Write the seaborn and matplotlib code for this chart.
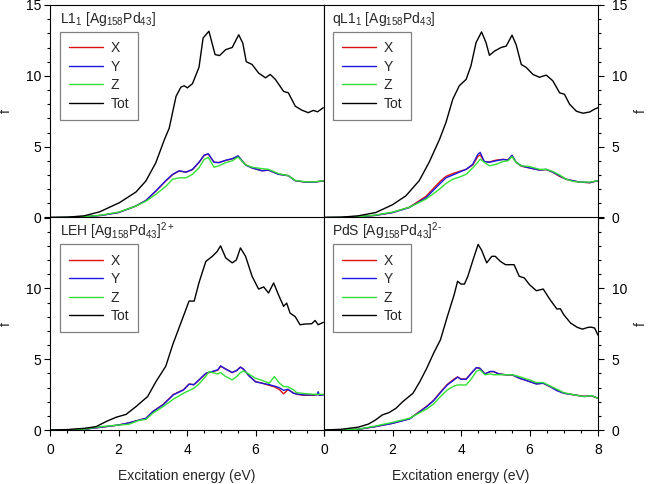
import matplotlib
matplotlib.use("Agg")
import matplotlib.pyplot as plt
from matplotlib.ticker import MultipleLocator
from matplotlib.lines import Line2D
import seaborn as sns
import pandas as pd

# ---------------- data ----------------
series_names = ["X", "Y", "Z", "Tot"]
series_colors = ["#dd1111", "#1a1ae0", "#33e033", "#000000"]

panel_titles = [
    r"L1$_1$ [Ag$_{158}$Pd$_{43}$]",
    r"qL1$_1$ [Ag$_{158}$Pd$_{43}$]",
    r"LEH [Ag$_{158}$Pd$_{43}$]$^{2+}$",
    r"PdS [Ag$_{158}$Pd$_{43}$]$^{2\text{-}}$",
]

# L1_1 (top-left)
l11_tot_x = [0, 0.5, 1.0, 1.45, 2.03, 2.51, 2.8, 3.09, 3.34, 3.48, 3.68, 3.82, 3.92, 4.01, 4.16, 4.35, 4.47, 4.64, 4.82, 4.95, 5.13, 5.32, 5.51, 5.63, 5.73, 5.9, 6.09, 6.29, 6.43, 6.58, 6.82, 6.96, 7.16, 7.35, 7.54, 7.69, 7.81, 7.98]
l11_tot = [0, 0.02, 0.12, 0.4, 1.05, 1.8, 2.58, 3.87, 5.5, 6.3, 8.55, 9.2, 9.3, 9.15, 9.45, 10.6, 12.67, 13.15, 11.5, 11.43, 11.85, 12.0, 12.9, 12.3, 11.0, 10.8, 10.2, 9.86, 10.1, 9.75, 8.9, 8.8, 7.86, 7.58, 7.4, 7.56, 7.46, 7.75]
l11_comp_x = [0, 0.5, 1.0, 1.5, 2.0, 2.5, 2.8, 3.1, 3.38, 3.58, 3.77, 3.97, 4.16, 4.35, 4.5, 4.62, 4.79, 4.93, 5.13, 5.32, 5.49, 5.71, 5.9, 6.19, 6.38, 6.67, 6.96, 7.16, 7.45, 7.74, 7.98]
l11_x = [0, 0.01, 0.05, 0.15, 0.35, 0.8, 1.2, 1.88, 2.58, 3.02, 3.28, 3.2, 3.38, 3.88, 4.38, 4.48, 3.9, 3.88, 4.03, 4.14, 4.33, 3.72, 3.5, 3.3, 3.34, 3.06, 2.95, 2.6, 2.5, 2.52, 2.58]
l11_y = [0, 0.01, 0.05, 0.15, 0.35, 0.8, 1.2, 1.9, 2.6, 3.05, 3.3, 3.2, 3.4, 3.9, 4.4, 4.5, 3.9, 3.87, 4.04, 4.15, 4.35, 3.7, 3.5, 3.3, 3.35, 3.05, 2.95, 2.6, 2.5, 2.5, 2.58]
l11_z = [0, 0.01, 0.05, 0.17, 0.38, 0.8, 1.15, 1.65, 2.2, 2.7, 2.8, 2.8, 3.05, 3.5, 4.1, 4.25, 3.55, 3.65, 3.87, 4.0, 4.27, 3.72, 3.55, 3.45, 3.4, 3.1, 2.95, 2.62, 2.52, 2.52, 2.6]

# qL1_1 (top-right)
ql11_tot_x = [0, 0.5, 1.0, 1.51, 2.0, 2.39, 2.78, 3.07, 3.37, 3.56, 3.76, 3.95, 4.15, 4.29, 4.44, 4.6, 4.73, 4.83, 4.98, 5.17, 5.32, 5.49, 5.61, 5.76, 5.9, 6.1, 6.29, 6.49, 6.68, 6.88, 7.02, 7.17, 7.37, 7.56, 7.76, 7.9, 8.0]
ql11_tot = [0, 0.02, 0.12, 0.35, 0.9, 1.53, 2.6, 3.9, 5.5, 6.7, 8.35, 9.3, 9.75, 10.7, 12.35, 13.1, 12.35, 11.45, 11.75, 12.0, 12.1, 12.87, 12.2, 10.8, 10.6, 10.1, 9.9, 10.05, 9.65, 8.8, 8.7, 8.0, 7.5, 7.36, 7.45, 7.65, 7.75]
ql11_comp_x = [0, 0.5, 1.0, 1.5, 2.0, 2.49, 2.98, 3.37, 3.56, 3.76, 3.95, 4.15, 4.34, 4.49, 4.56, 4.68, 4.83, 5.02, 5.22, 5.37, 5.49, 5.61, 5.76, 6.0, 6.29, 6.49, 6.68, 6.88, 7.07, 7.27, 7.46, 7.76, 8.0]
ql11_x = [0, 0.01, 0.05, 0.15, 0.35, 0.72, 1.5, 2.5, 2.9, 3.1, 3.25, 3.4, 3.7, 4.3, 4.42, 3.95, 3.92, 4.05, 4.1, 4.08, 4.35, 3.9, 3.62, 3.5, 3.35, 3.38, 3.2, 2.9, 2.7, 2.58, 2.5, 2.45, 2.6]
ql11_y = [0, 0.01, 0.05, 0.15, 0.35, 0.7, 1.4, 2.35, 2.8, 3.0, 3.2, 3.4, 3.75, 4.45, 4.6, 3.95, 3.9, 4.0, 4.1, 4.05, 4.4, 3.9, 3.65, 3.5, 3.35, 3.4, 3.2, 2.95, 2.7, 2.6, 2.5, 2.47, 2.6]
ql11_z = [0, 0.01, 0.05, 0.17, 0.38, 0.72, 1.3, 2.0, 2.4, 2.7, 2.85, 3.05, 3.5, 3.9, 4.12, 3.9, 3.65, 3.75, 3.95, 4.0, 4.3, 3.9, 3.65, 3.6, 3.4, 3.4, 3.25, 3.0, 2.7, 2.55, 2.5, 2.5, 2.6]

# LEH (bottom-left)
leh_tot_x = [0, 0.5, 1.02, 1.35, 1.64, 1.93, 2.22, 2.51, 2.71, 2.85, 3.09, 3.38, 3.58, 3.82, 4.06, 4.21, 4.35, 4.55, 4.74, 4.88, 4.98, 5.13, 5.32, 5.44, 5.56, 5.71, 5.9, 6.09, 6.24, 6.38, 6.53, 6.67, 6.82, 6.91, 7.01, 7.16, 7.3, 7.45, 7.64, 7.74, 7.83, 7.98]
leh_tot = [0, 0.03, 0.12, 0.24, 0.6, 0.9, 1.1, 1.65, 2.07, 2.36, 3.4, 4.5, 6.0, 7.55, 9.1, 9.1, 10.4, 11.9, 12.26, 12.6, 13.0, 12.15, 11.8, 12.0, 12.85, 12.26, 10.85, 9.95, 10.1, 9.67, 10.38, 9.55, 8.73, 8.96, 8.25, 8.0, 7.43, 7.48, 7.5, 7.73, 7.43, 7.6]
leh_comp_x = [0, 0.5, 1.0, 1.5, 2.0, 2.3, 2.6, 2.8, 3.0, 3.3, 3.6, 3.9, 4.06, 4.2, 4.35, 4.55, 4.65, 4.74, 4.9, 4.98, 5.13, 5.32, 5.45, 5.56, 5.65, 5.8, 6.0, 6.2, 6.4, 6.55, 6.7, 6.82, 6.95, 7.1, 7.2, 7.4, 7.7, 7.8, 7.83, 7.86, 7.98]
leh_x = [0, 0.01, 0.05, 0.2, 0.35, 0.5, 0.7, 0.82, 1.3, 1.8, 2.5, 2.85, 3.25, 3.2, 3.52, 3.98, 4.06, 4.12, 4.22, 4.5, 4.3, 4.05, 4.2, 4.45, 4.28, 3.85, 3.42, 3.3, 3.15, 3.05, 2.85, 2.55, 2.85, 2.62, 2.52, 2.45, 2.45, 2.5, 2.62, 2.45, 2.5]
leh_y = [0, 0.01, 0.05, 0.2, 0.35, 0.5, 0.7, 0.82, 1.3, 1.77, 2.48, 2.83, 3.23, 3.2, 3.54, 4.0, 4.08, 4.13, 4.25, 4.53, 4.3, 4.06, 4.2, 4.43, 4.3, 3.85, 3.4, 3.3, 3.2, 3.1, 2.98, 2.8, 2.88, 2.6, 2.55, 2.48, 2.48, 2.48, 2.7, 2.45, 2.48]
leh_z = [0, 0.01, 0.06, 0.24, 0.35, 0.4, 0.68, 0.75, 1.18, 1.65, 2.17, 2.6, 2.78, 2.95, 3.25, 3.8, 4.13, 4.05, 3.96, 4.06, 3.77, 3.54, 3.77, 4.05, 4.17, 3.96, 3.65, 3.5, 3.3, 3.77, 3.3, 3.07, 3.05, 2.85, 2.64, 2.58, 2.52, 2.52, 2.52, 2.52, 2.52]

# PdS (bottom-right)
pds_tot_x = [0, 0.5, 1.0, 1.3, 1.5, 1.7, 1.9, 2.1, 2.3, 2.6, 2.8, 3.0, 3.2, 3.4, 3.6, 3.8, 3.9, 4.0, 4.1, 4.2, 4.35, 4.5, 4.6, 4.75, 4.9, 5.0, 5.15, 5.3, 5.45, 5.55, 5.7, 5.85, 6.0, 6.2, 6.4, 6.6, 6.8, 6.9, 7.0, 7.2, 7.4, 7.55, 7.7, 7.8, 7.9, 8.0]
pds_tot = [0, 0.05, 0.2, 0.42, 0.7, 1.06, 1.23, 1.53, 2.0, 2.6, 3.42, 4.36, 5.42, 6.37, 8.0, 9.55, 10.5, 10.3, 10.3, 10.85, 12.0, 13.1, 12.7, 11.8, 12.26, 12.26, 11.9, 11.67, 11.67, 11.67, 10.85, 10.73, 10.26, 9.83, 9.95, 9.2, 8.54, 8.56, 8.14, 7.55, 7.24, 7.12, 7.24, 7.26, 7.2, 6.7]
pds_comp_x = [0, 0.5, 1.0, 1.5, 2.0, 2.5, 2.8, 3.0, 3.2, 3.4, 3.6, 3.8, 3.9, 4.0, 4.15, 4.3, 4.45, 4.55, 4.7, 4.85, 4.95, 5.1, 5.3, 5.5, 5.7, 6.0, 6.2, 6.4, 6.6, 6.8, 7.0, 7.3, 7.6, 7.8, 8.0]
pds_x = [0, 0.01, 0.05, 0.24, 0.47, 0.8, 1.32, 1.68, 2.1, 2.68, 3.22, 3.6, 3.75, 3.6, 3.6, 4.02, 4.4, 4.35, 3.97, 4.12, 4.12, 3.96, 3.9, 3.88, 3.66, 3.42, 3.26, 3.3, 3.06, 2.8, 2.6, 2.48, 2.38, 2.42, 2.24]
pds_y = [0, 0.01, 0.05, 0.24, 0.47, 0.78, 1.3, 1.65, 2.07, 2.64, 3.18, 3.54, 3.73, 3.58, 3.58, 4.0, 4.41, 4.36, 3.96, 4.13, 4.13, 3.96, 3.9, 3.9, 3.66, 3.42, 3.25, 3.3, 3.07, 2.78, 2.6, 2.48, 2.36, 2.43, 2.24]
pds_z = [0, 0.01, 0.06, 0.28, 0.54, 0.83, 1.23, 1.49, 1.84, 2.36, 2.83, 3.11, 3.18, 3.18, 3.18, 3.6, 4.15, 4.25, 3.9, 3.96, 3.9, 3.9, 3.9, 3.9, 3.77, 3.54, 3.35, 3.35, 3.11, 2.88, 2.64, 2.48, 2.36, 2.43, 2.24]

x_label = "Excitation energy (eV)"
y_label = "f"

# ---------------- build tables ----------------
def build(comp_x, xs, ys, zs, tot_x, tot):
    frames = []
    for name, vals, ex in (("X", xs, comp_x), ("Y", ys, comp_x), ("Z", zs, comp_x), ("Tot", tot, tot_x)):
        frames.append(pd.DataFrame({"E": ex, "f": vals, "series": name}))
    return pd.concat(frames, ignore_index=True)

panels = [
    build(l11_comp_x, l11_x, l11_y, l11_z, l11_tot_x, l11_tot),
    build(ql11_comp_x, ql11_x, ql11_y, ql11_z, ql11_tot_x, ql11_tot),
    build(leh_comp_x, leh_x, leh_y, leh_z, leh_tot_x, leh_tot),
    build(pds_comp_x, pds_x, pds_y, pds_z, pds_tot_x, pds_tot),
]

# ---------------- style ----------------
sns.set_style("ticks")
plt.rcParams["font.family"] = ["Liberation Sans", "DejaVu Sans"]
plt.rcParams["mathtext.fontset"] = "custom"
plt.rcParams["mathtext.rm"] = "Liberation Sans"
plt.rcParams["mathtext.it"] = "Liberation Sans"
plt.rcParams["mathtext.default"] = "regular"

fig, axes = plt.subplots(2, 2, figsize=(6.5, 4.84), dpi=100)
fig.subplots_adjust(left=50 / 650, right=598 / 650, bottom=1 - 430 / 484, top=1 - 5 / 484,
                    wspace=0, hspace=0)

palette = dict(zip(series_names, series_colors))

for i, ax in enumerate(axes.flat):
    row, col = divmod(i, 2)
    sns.lineplot(data=panels[i], x="E", y="f", hue="series", hue_order=series_names,
                 palette=palette, sort=False, estimator=None, legend=False,
                 lw=1.0, ax=ax)
    ax.set_xlim(0, 8)
    ax.set_ylim(0, 15)
    for sp in ax.spines.values():
        sp.set_visible(True)
        sp.set_linewidth(0.8)
        sp.set_color("black")

    ax.xaxis.set_major_locator(MultipleLocator(2))
    ax.xaxis.set_minor_locator(MultipleLocator(0.5))
    ax.yaxis.set_major_locator(MultipleLocator(5))
    ax.yaxis.set_minor_locator(MultipleLocator(1))
    ax.tick_params(which="both", direction="out", width=0.8, colors="black", labelsize=10)
    ax.tick_params(which="major", length=4)
    ax.tick_params(which="minor", length=2.5)
    ax.tick_params(axis="x", pad=5)

    if col == 1:
        ax.yaxis.tick_right()
        ax.yaxis.set_label_position("right")
        ax.tick_params(axis="y", which="both", left=False, right=True, pad=6)
    else:
        ax.tick_params(axis="y", which="both", left=True, right=False, pad=2)
    ax.tick_params(axis="x", which="both", top=False, bottom=True)

    if row == 0:
        ax.set_xticklabels([])
        ax.set_xlabel("")
    else:
        ax.set_xlabel(x_label, fontsize=10, labelpad=9)
        if col == 0:
            ax.set_xticks([0, 2, 4, 6, 8])
            ax.set_xticklabels(["0", "2", "4", "6", ""])
        ax.set_yticks([0, 5, 10, 15])
        ax.set_yticklabels(["0", "5", "10", ""])
    ax.set_ylabel(y_label, fontsize=10, rotation=90)
    if col == 0:
        ax.yaxis.set_label_coords(-0.136, 0.5)
    else:
        ax.yaxis.set_label_coords(1.132, 0.5)

    ax.text(0.028 if col == 1 else 0.036, 0.915, panel_titles[i], transform=ax.transAxes,
            fontsize=10, ha="left", va="baseline")

    handles = [Line2D([], [], color=c, lw=1.0) for c in series_colors]
    leg = ax.legend(handles, series_names, loc="upper left",
                    bbox_to_anchor=(0.033 if col == 1 else 0.036, 0.873),
                    borderaxespad=0, fontsize=10, frameon=True, fancybox=False,
                    handlelength=2.45, handletextpad=0.55, labelspacing=0.33,
                    borderpad=0.65)
    fr = leg.get_frame()
    fr.set_edgecolor("#808080")
    fr.set_linewidth(0.9)
    fr.set_alpha(1)

fig.savefig("out.png", dpi=100)
